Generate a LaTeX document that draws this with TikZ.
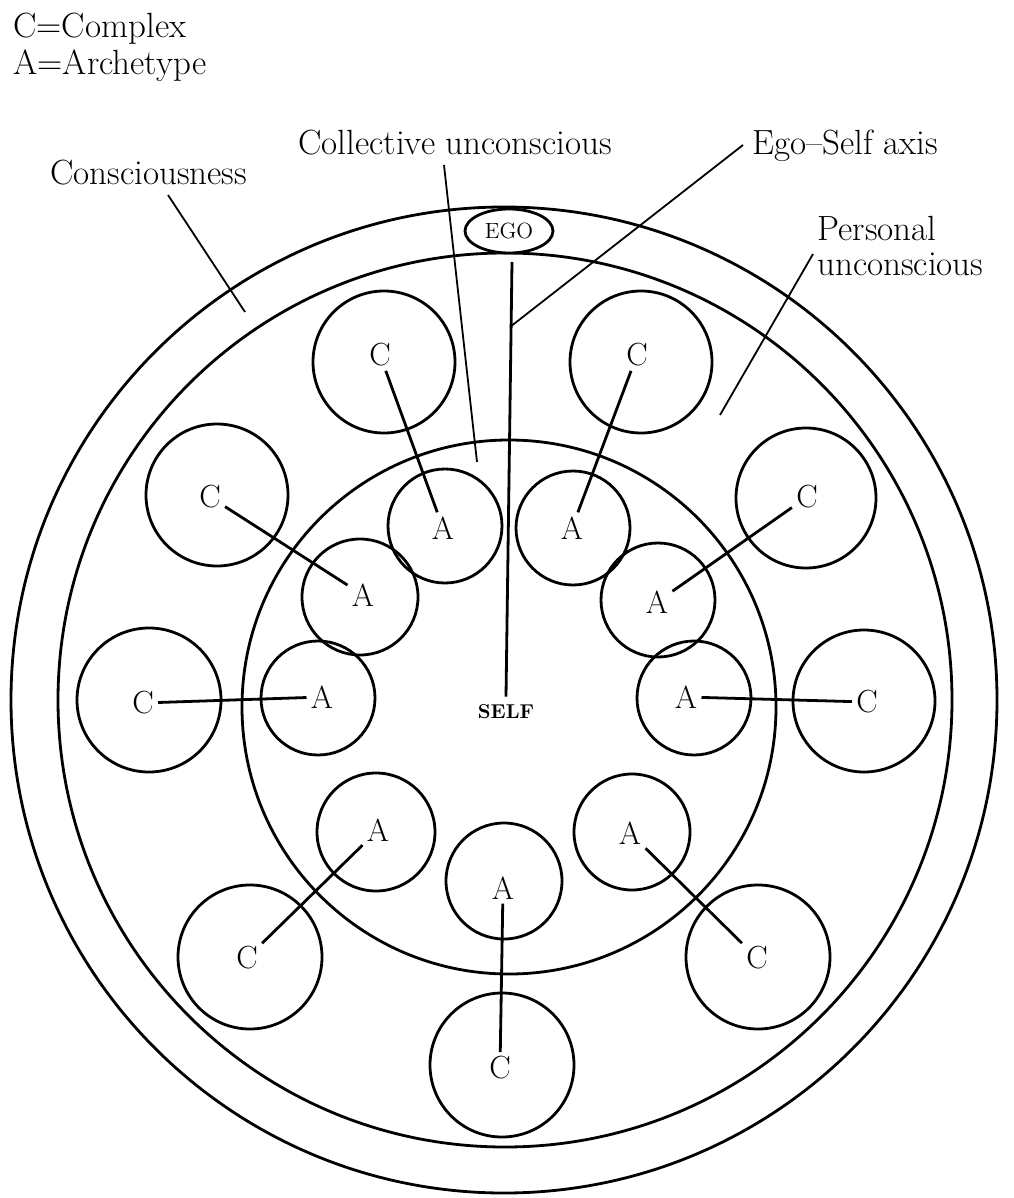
\documentclass[tikz,border=0pt]{standalone}
\usetikzlibrary{shapes.geometric}
\begin{document}
\begin{tikzpicture}[x=0.5pt,y=-0.5pt,
  ring/.style={circle, draw, line width=1.4pt, inner sep=0pt},
  letter/.style={inner sep=2pt, font=\fontsize{16}{16}\selectfont},
  link/.style={line width=1.4pt},
  leader/.style={line width=0.9pt},
  lab/.style={anchor=base west, inner sep=0pt, font=\fontsize{17.5}{20}\selectfont}]
\useasboundingbox (0,0) rectangle (1013,1198);

% big rings
\node[ring, minimum size=493pt] (outer) at (504,700) {};
\node[ring, minimum size=447pt] (pers) at (505,700) {};
\node[ring, minimum size=267pt] (coll) at (509,707) {};

% ego
\node[ellipse, draw, fill=white, line width=1.4pt, minimum width=44pt, minimum height=22pt, inner sep=0pt,
      font=\fontsize{11}{12}\selectfont] (ego) at (509,231) {EGO};

% archetype circles
\node[ring, minimum size=57pt] (ca1) at (445,526) {};
\node[ring, minimum size=58pt] (ca2) at (360,597) {};
\node[ring, minimum size=57pt] (ca3) at (318,698) {};
\node[ring, minimum size=59pt] (ca4) at (376,832) {};
\node[ring, minimum size=58pt] (ca5) at (504,881) {};
\node[ring, minimum size=57pt] (ca6) at (573,528) {};
\node[ring, minimum size=57pt] (ca7) at (658,600) {};
\node[ring, minimum size=57pt] (ca8) at (694,698) {};
\node[ring, minimum size=58pt] (ca9) at (632,832) {};

% complex circles
\node[ring, minimum size=71pt] (cc1) at (384,362) {};
\node[ring, minimum size=71pt] (cc2) at (217,495) {};
\node[ring, minimum size=72pt] (cc3) at (149,700) {};
\node[ring, minimum size=72pt] (cc4) at (250,957) {};
\node[ring, minimum size=72pt] (cc5) at (502,1065) {};
\node[ring, minimum size=71pt] (cc6) at (641,362) {};
\node[ring, minimum size=70pt] (cc7) at (806,498) {};
\node[ring, minimum size=71pt] (cc8) at (864,701) {};
\node[ring, minimum size=72pt] (cc9) at (758,957) {};

% letters
\node[letter] (a1) at (443,528) {A};
\node[letter] (a2) at (363,595) {A};
\node[letter] (a3) at (322,697) {A};
\node[letter] (a4) at (378,830) {A};
\node[letter] (a5) at (503,888) {A};
\node[letter] (a6) at (572,528) {A};
\node[letter] (a7) at (657,602) {A};
\node[letter] (a8) at (686,697) {A};
\node[letter] (a9) at (630,833) {A};

\node[letter] (c1) at (380,355) {C};
\node[letter] (c2) at (210,497) {C};
\node[letter] (c3) at (143,703) {C};
\node[letter] (c4) at (247,958) {C};
\node[letter] (c5) at (500,1068) {C};
\node[letter] (c6) at (637,355) {C};
\node[letter] (c7) at (807,497) {C};
\node[letter] (c8) at (867,702) {C};
\node[letter] (c9) at (757,958) {C};

\foreach \i in {1,...,9} { \draw[link] (c\i) -- (a\i); }

% self and axis
\node[inner sep=4pt, font=\fontsize{10}{12}\selectfont\bfseries] (self) at (506,712) {SELF};
\coordinate (axtop) at (512,262);
\draw[link] (axtop) -- (self.north);

% labels
\node[lab] (key1) at (13,38) {C=Complex};
\node[lab] (key2) at (13,75) {A=Archetype};
\node[lab] (lcons) at (50,185) {Consciousness};
\node[lab] (lcoll) at (298,155) {Collective unconscious};
\node[lab] (laxis) at (752,155) {Ego--Self axis};
\node[anchor=north west, inner sep=0pt, align=left,
      font=\fontsize{17.5}{17.5}\selectfont] (lpers) at (817,216) {Personal\\unconscious};

% leader lines
\coordinate (conss) at (168,195);
\coordinate (conse) at (245,312);
\coordinate (colls) at (444,165);
\coordinate (colle) at (477,462);
\coordinate (axs) at (743,145);
\coordinate (axe) at (510,327);
\coordinate (perss) at (813,254);
\coordinate (perse) at (720,415);
\draw[leader] (conss) -- (conse);
\draw[leader] (colls) -- (colle);
\draw[leader] (axs) -- (axe);
\draw[leader] (perss) -- (perse);
\end{tikzpicture}
\end{document}
